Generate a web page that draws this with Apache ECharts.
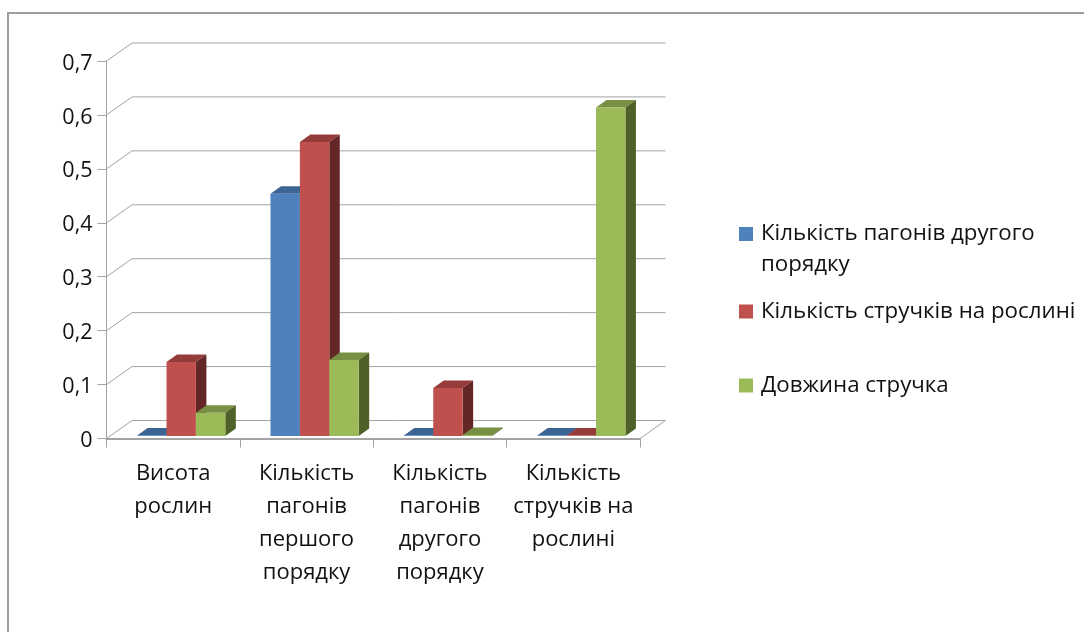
<!DOCTYPE html>
<html><head><meta charset="utf-8">
<style>html,body{margin:0;padding:0;background:#fff}#c{width:1084px;height:632px}</style>
<script src="https://cdn.jsdelivr.net/npm/echarts@6/dist/echarts.min.js"></script>
</head><body><div id="c"></div>
<script>
const categories = ['Висота\nрослин','Кількість\nпагонів\nпершого\nпорядку','Кількість\nпагонів\nдругого\nпорядку','Кількість\nстручків на\nрослині'];
const seriesNames = ['Кількість пагонів другого порядку','Кількість стручків на рослині','Довжина стручка'];
const shootsSecond = [0.001,0.449,0.001,0.001];
const podsPerPlant = [0.137,0.545,0.089,0.001];
const podLength = [0.043,0.141,0.002,0.609];
const yTicks = [0,0.1,0.2,0.3,0.4,0.5,0.6,0.7];
const seriesValues = [shootsSecond,podsPerPlant,podLength];
const FONT = '"Open Sans", "Noto Sans", sans-serif';
const front = ['#4F81BD','#C0504D','#9BBB59'];
const topFace = ['#3C6494','#953B39','#779043'];
const sideFace = ['#2A4669','#632725','#4F6128'];
const WALL_DX = 25.5, WALL_DY = 18, BAR_DX = 10.5, BAR_DY = 7.5, FLOOR_INSET = 2.5;
const BAR_W = 29.4, GROUP_PAD = 30.6;

function wallItem(params, api){
  const v = api.value(0), p = api.coord([0,v]), cs = params.coordSys;
  const x0 = cs.x, x1 = cs.x + cs.width, y = p[1], st = {stroke:'#a3a3a3',lineWidth:1,fill:null};
  const pts = [[x0,y],[x0+WALL_DX,y-WALL_DY],[x1+WALL_DX,y-WALL_DY]];
  if(v===0) pts.push([x1,y]);
  return {type:'polyline',shape:{points:pts},style:st,silent:true};
}
function barItem(idx){
  return function(params, api){
    const cat = api.value(0), val = api.value(1);
    const band = api.size([1,0])[0];
    const c = api.coord([cat,val]), b = api.coord([cat,0]);
    const x = c[0]-band/2+GROUP_PAD+idx*BAR_W, r = x+BAR_W;
    const top = c[1]-FLOOR_INSET, base = b[1]-FLOOR_INSET;
    return {type:'group',children:[
      {type:'polygon',shape:{points:[[x,top],[x+BAR_DX,top-BAR_DY],[r+BAR_DX,top-BAR_DY],[r,top]]},style:{fill:topFace[idx]}},
      {type:'polygon',shape:{points:[[r,top],[r+BAR_DX,top-BAR_DY],[r+BAR_DX,base-BAR_DY],[r,base]]},style:{fill:sideFace[idx]}},
      {type:'rect',shape:{x:x,y:top,width:BAR_W,height:base-top},style:{fill:front[idx]}}
    ]};
  };
}
const series = [{type:'custom',name:'walls',coordinateSystem:'cartesian2d',renderItem:wallItem,data:yTicks.map(v=>[v]),encode:{y:0},clip:false,silent:true,z:1}];
seriesNames.forEach((n,i)=>series.push({
  type:'custom',name:n,coordinateSystem:'cartesian2d',renderItem:barItem(i),
  data:seriesValues[i].map((v,k)=>[k,v]),encode:{x:0,y:1},clip:false,itemStyle:{color:front[i]},z:2+i
}));
function legendAt(i,top,multi){
  const ts = {fontFamily:FONT,fontSize:22.3,color:'#111',lineHeight:31};
  return {show:true,data:[seriesNames[i]],left:739,top:top,orient:'vertical',padding:0,itemWidth:20,itemHeight:14,itemGap:0,
    icon:'path://M0,0H14V14H0Z',symbolKeepAspect:true,selectedMode:false,textStyle:ts,
    formatter:n=>multi?'\n'+n.replace(' другого ',' другого\n'):n};
}
const chart = echarts.init(document.getElementById('c'),null,{renderer:'canvas'});
chart.setOption({
  animation:false,backgroundColor:'#fff',
  graphic:[{type:'rect',shape:{x:8,y:13,width:1300,height:900},style:{fill:null,stroke:'#9d9d9d',lineWidth:2},silent:true,z:0}],
  grid:{left:106.5,top:61,width:533.5,height:377.5,containLabel:false},
  legend:[legendAt(0,187.5,true),legendAt(1,296,false),legendAt(2,370,false)],
  xAxis:{type:'category',data:categories,boundaryGap:true,
    axisLine:{lineStyle:{color:'#a3a3a3',width:2}},
    axisTick:{show:true,alignWithLabel:false,length:9,lineStyle:{color:'#a3a3a3',width:1}},
    axisLabel:{interval:0,fontFamily:FONT,fontSize:22,color:'#111',lineHeight:32.8,margin:19,align:'center'},
    splitLine:{show:false}},
  yAxis:{type:'value',min:0,max:0.7,interval:0.1,
    axisLine:{show:true,lineStyle:{color:'#a3a3a3',width:1}},
    axisTick:{show:true,length:9,lineStyle:{color:'#a3a3a3',width:1}},
    axisLabel:{margin:14,color:'#111',formatter:v=>'{t|'+(v===0?'0':v.toFixed(1).replace('.',','))+'}',
      rich:{t:{fontFamily:FONT,fontSize:21.5,color:'#111',padding:[5,0,0,0]}}},
    splitLine:{show:false}},
  series:series
});
</script></body></html>
